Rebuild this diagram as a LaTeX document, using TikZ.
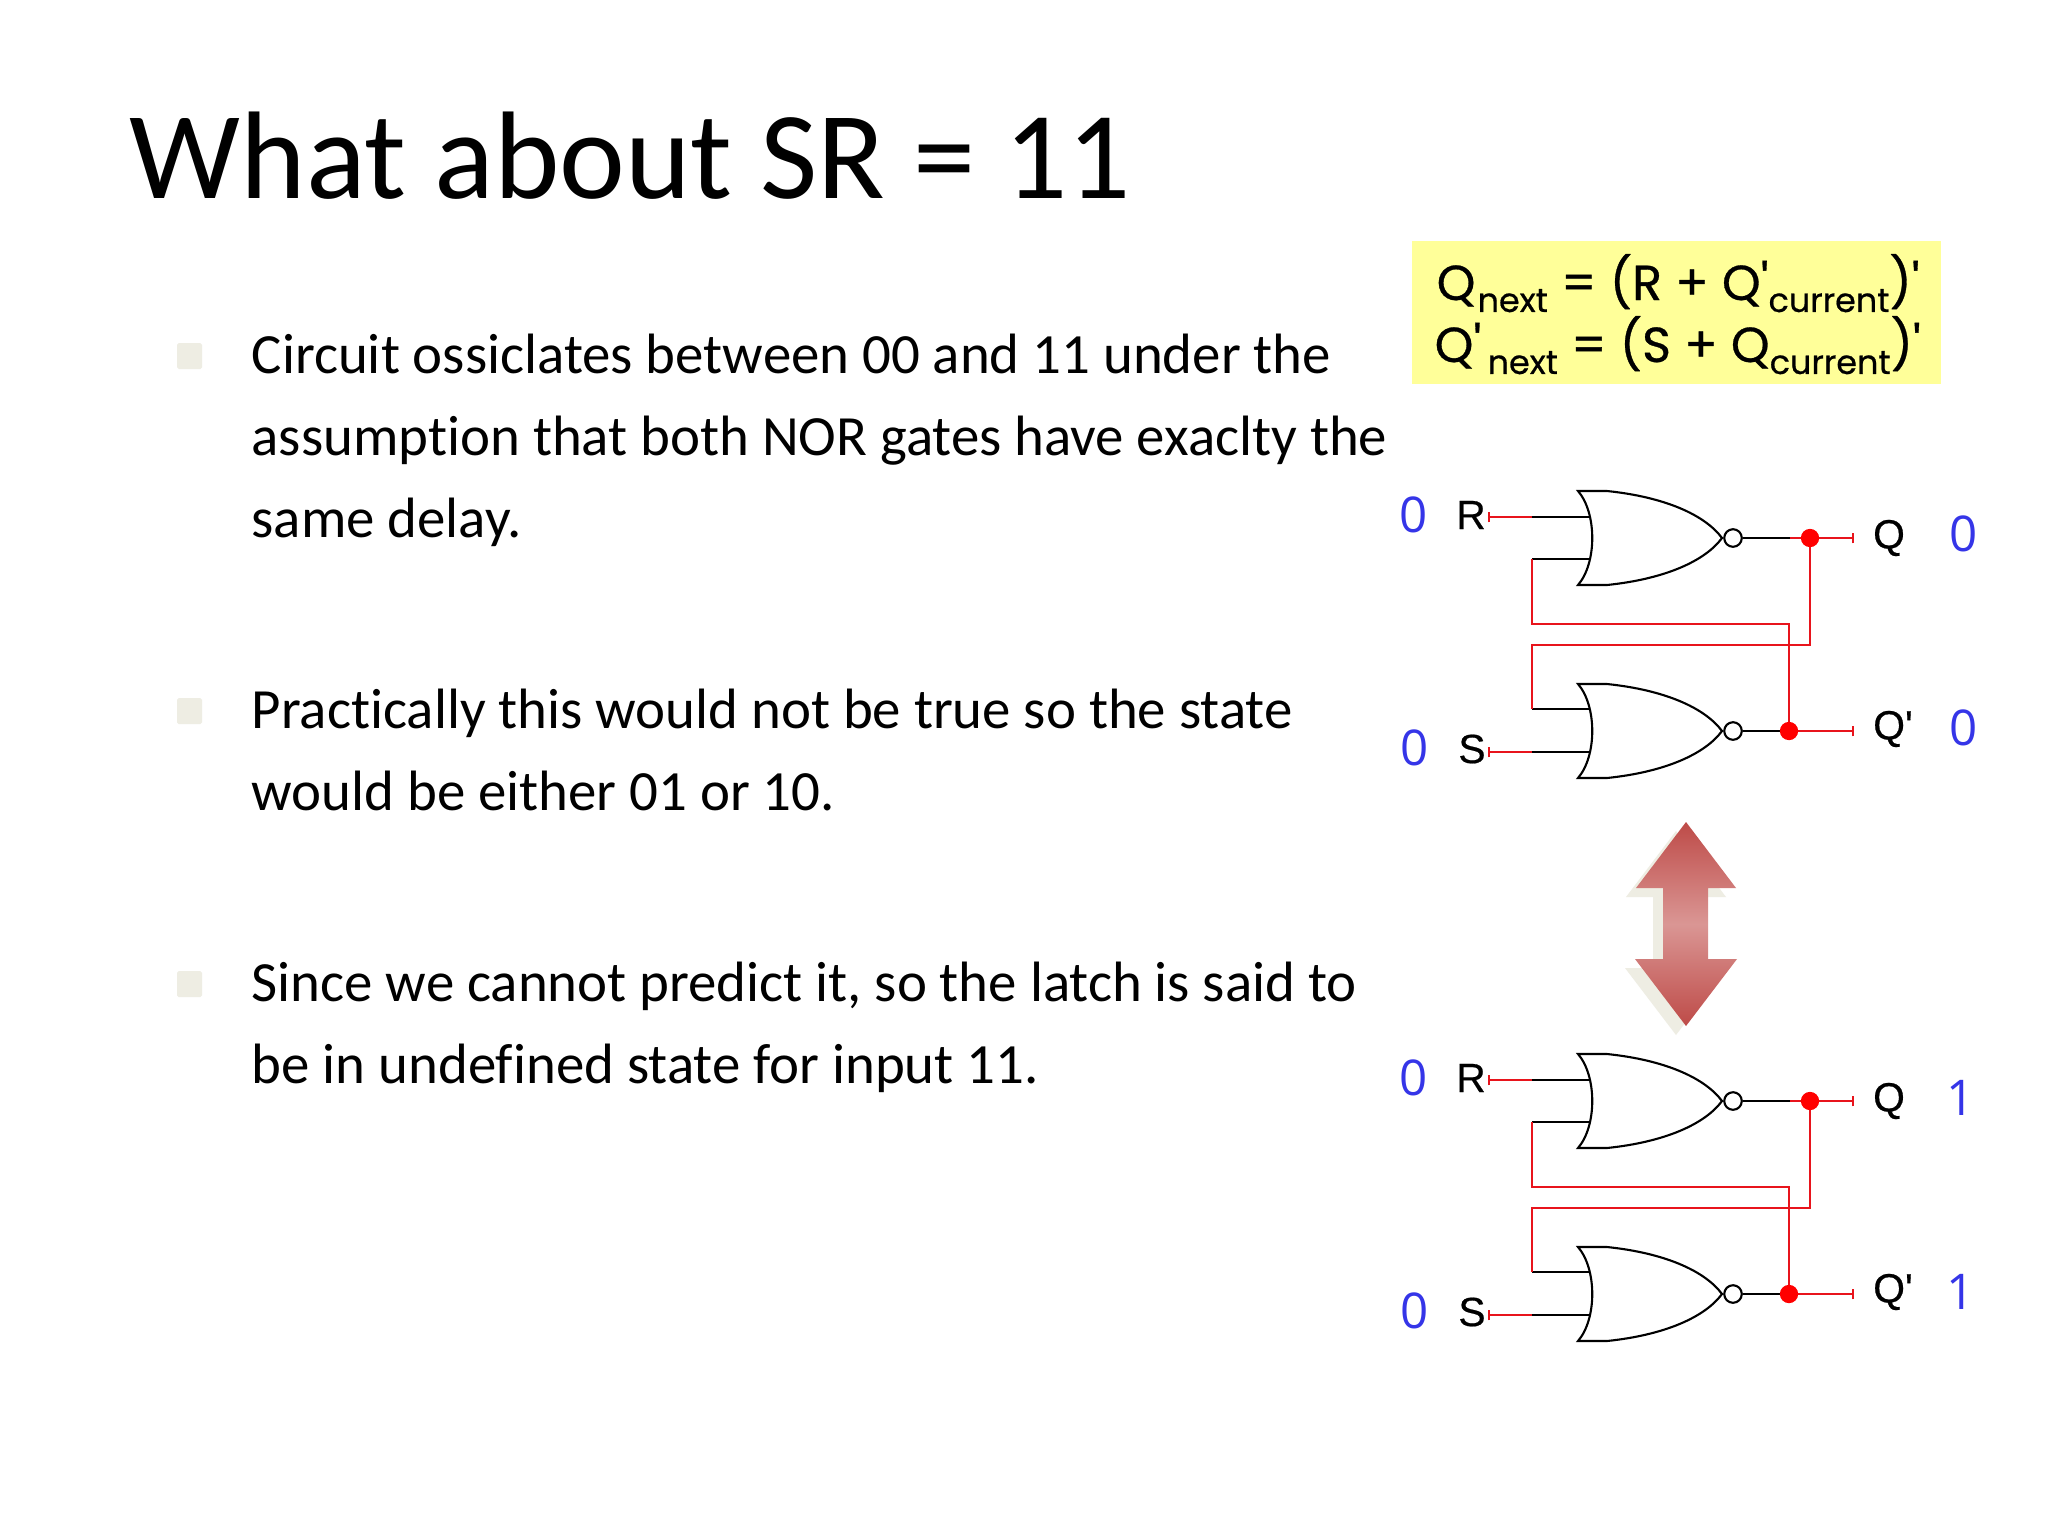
\documentclass[tikz,border=0pt]{standalone}
\usepackage{fontspec}
\setmainfont{Carlito}[Ligatures=NoCommon,Contextuals=NoAlternate]
\newfontfamily\formfont{Poppins}[FakeBold=0.6]
\newfontfamily\digitfont{Open Sans}
\newfontfamily\labelfont{Liberation Sans}[FakeBold=0.5]
\definecolor{wirered}{HTML}{E8141C}
\definecolor{dotred}{HTML}{FF0000}
\definecolor{bitblue}{HTML}{3535E8}
\definecolor{boxyellow}{HTML}{FFFF99}
\definecolor{bulletgrey}{HTML}{EEEDE3}
\definecolor{arrowdark}{HTML}{BE4B48}
\definecolor{arrowmid}{HTML}{DA9694}
\tikzset{
  txt/.style={anchor=base west,inner sep=0pt,font=\fontsize{16.17}{16.17}\selectfont,text=black},
  titletxt/.style={anchor=base west,inner sep=0pt,font=\fontsize{35.45}{36}\selectfont,text=black},
  bitlabel/.style={inner sep=0pt,font=\digitfont\fontsize{14}{14}\selectfont,text=bitblue},
  pinlabel/.style={inner sep=0pt,font=\labelfont\fontsize{11.6}{11.6}\selectfont,text=black},
  formula/.style={anchor=base west,inner sep=0pt,font=\formfont\fontsize{14}{14}\selectfont,text=black},
  blackwire/.style={draw=black,line width=0.6pt},
  redwire/.style={draw=wirered,line width=0.6pt},
  bulletbox/.style={fill=bulletgrey,draw=none,rounded corners=0.5pt},
  reddot/.style={fill=dotred,draw=none}
}
\newcommand{\subtxt}[1]{\raisebox{-3.4pt}{\fontsize{9.5}{9.5}\selectfont #1}}
% one NOR gate: #1 name, #2 vertical position of its output line
\newcommand{\norgate}[2]{%
  \draw[blackwire,fill=white] (1578,#2-47) -- (1607,#2-47)
    .. controls (1665,#2-41) and (1705,#2-23) .. (1722,#2)
    .. controls (1705,#2+23) and (1665,#2+41) .. (1607,#2+47)
    -- (1578,#2+47)
    .. controls (1597,#2+25) and (1597,#2-25) .. (1578,#2-47) -- cycle;
  \node[circle,draw=black,line width=0.6pt,fill=white,minimum size=5pt,inner sep=0pt] (#1b) at (1733,#2) {};
}
\newcommand{\latch}[1]{%
  \begin{scope}[shift={(0,#1)}]
    \norgate{g#1u}{538}
    \norgate{g#1l}{731}
    \coordinate (r#1t) at (1489,517);
    \coordinate (r#1a) at (1532,517);
    \coordinate (r#1i) at (1590,517);
    \coordinate (f#1a) at (1532,559);
    \coordinate (f#1i) at (1590,559);
    \coordinate (f#1b) at (1532,624);
    \coordinate (f#1c) at (1789,624);
    \coordinate (d#1l) at (1789,731);
    \coordinate (d#1u) at (1810,538);
    \coordinate (e#1b) at (1810,645);
    \coordinate (e#1c) at (1532,645);
    \coordinate (e#1a) at (1532,709);
    \coordinate (e#1i) at (1590,709);
    \coordinate (s#1t) at (1489,752);
    \coordinate (s#1a) at (1532,752);
    \coordinate (s#1i) at (1590,752);
    \coordinate (q#1t) at (1853,538);
    \coordinate (p#1t) at (1853,731);
    \coordinate (q#1m) at (1790,538);
    \draw[blackwire] (r#1a) -- (r#1i);
    \draw[blackwire] (f#1a) -- (f#1i);
    \draw[blackwire] (e#1a) -- (e#1i);
    \draw[blackwire] (s#1a) -- (s#1i);
    \draw[blackwire] (g#1ub.east) -- (q#1m);
    \draw[blackwire] (g#1lb.east) -- (d#1l);
    \draw[redwire] (r#1t) -- (r#1a);
    \draw[redwire] (s#1t) -- (s#1a);
    \draw[redwire] (q#1m) -- (q#1t);
    \draw[redwire] (d#1l) -- (p#1t);
    \draw[redwire] (f#1a) -- (f#1b) -- (f#1c) -- (d#1l);
    \draw[redwire] (d#1u) -- (e#1b) -- (e#1c) -- (e#1a);
    \draw[redwire] ([yshift=-1.5pt]r#1t) -- ([yshift=1.5pt]r#1t);
    \draw[redwire] ([yshift=-1.5pt]s#1t) -- ([yshift=1.5pt]s#1t);
    \draw[redwire] ([yshift=-1.5pt]q#1t) -- ([yshift=1.5pt]q#1t);
    \draw[redwire] ([yshift=-1.5pt]p#1t) -- ([yshift=1.5pt]p#1t);
    \fill[reddot] (d#1u) circle (2.6pt);
    \fill[reddot] (d#1l) circle (2.6pt);
    \node[pinlabel] (lr#1) at (1471,515) {R};
    \node[pinlabel] (ls#1) at (1472,749) {S};
    \node[pinlabel] (lq#1) at (1889,538) {Q};
  \end{scope}
}
\begin{document}
\begin{tikzpicture}[x=0.01cm,y=-0.01cm]
\useasboundingbox (0,0) rectangle (2048,1536);
\fill[white] (0,0) rectangle (2048,1536);

\node[titletxt] (title) at (129,198) {What about SR = 11};

\fill[bulletbox] (177,343) rectangle (202,369);
\fill[bulletbox] (177,698) rectangle (202,724);
\fill[bulletbox] (177,971) rectangle (202,997);

\node[txt] (a1) at (251,373) {Circuit ossiclates between 00 and 11 under the};
\node[txt] (a2) at (251,455) {assumption that both NOR gates have exaclty the};
\node[txt] (a3) at (251,537) {same delay.};
\node[txt] (b1) at (251,728) {Practically this would not be true so the state};
\node[txt] (b2) at (251,810) {would be either 01 or 10.};
\node[txt] (c1) at (251,1001) {Since we cannot predict it, so the latch is said to};
\node[txt] (c2) at (251,1083) {be in undefined state for input 11.};

\fill[boxyellow] (1412,241) rectangle (1941,384);
\node[formula] (f1) at (1436,300) {Q\kern0.6pt\subtxt{next} = (R + Q'\subtxt{current})'};
\node[formula] (f2) at (1434,362) {Q'\kern1.8pt\subtxt{next} = (S + Q\subtxt{current})'};

\latch{0}
\latch{563}

\node[pinlabel] (qp0) at (1893,729) {Q'};
\node[pinlabel] (qp1) at (1893,1292) {Q'};

\node[bitlabel] (b00) at (1414,515) {0};
\node[bitlabel] (b01) at (1964,534) {0};
\node[bitlabel] (b02) at (1964,728) {0};
\node[bitlabel] (b03) at (1415,748) {0};
\node[bitlabel] (b10) at (1414,1078) {0};
\node[bitlabel] (b11) at (1961,1098) {1};
\node[bitlabel] (b12) at (1961,1292) {1};
\node[bitlabel] (b13) at (1415,1311) {0};

% double arrow with shadow
\fill[bulletgrey,shift={(-10,9)}] (1686,822) -- (1736,888) -- (1708,888) -- (1708,959) -- (1737,959) -- (1686,1026) -- (1635,959) -- (1663,959) -- (1663,888) -- (1636,888) -- cycle;
\path[top color=arrowdark,bottom color=arrowdark,middle color=arrowmid] (1686,822) -- (1736,888) -- (1708,888) -- (1708,959) -- (1737,959) -- (1686,1026) -- (1635,959) -- (1663,959) -- (1663,888) -- (1636,888) -- cycle;
\end{tikzpicture}
\end{document}
